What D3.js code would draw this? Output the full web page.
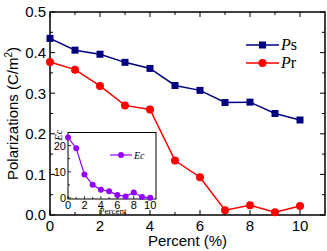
<!DOCTYPE html>
<html>
<head>
<meta charset="utf-8">
<script src="https://cdn.jsdelivr.net/npm/d3@7"></script>
<style>
  body { margin: 0; background: #fff; }
  svg { display: block; }
</style>
</head>
<body>
<div id="chart"></div>
<script>
// data
const percent = [0, 1, 2, 3, 4, 5, 6, 7, 8, 9, 10]
const psValues = [0.435, 0.406, 0.396, 0.376, 0.361, 0.319, 0.307, 0.277, 0.278, 0.250, 0.234]
const prValues = [0.377, 0.358, 0.318, 0.270, 0.260, 0.134, 0.093, 0.012, 0.024, 0.007, 0.022]
const ecValues = [23.1, 19.0, 9.0, 5.0, 3.1, 2.6, 1.1, 0.6, 2.1, 0.4, 0.1]
const xTickLabels = [0, 2, 4, 6, 8, 10]
const yTickLabels = [0.0, 0.1, 0.2, 0.3, 0.4, 0.5]
const insetYTicks = [0, 10, 20]

const width = 327, height = 251
const margin = { top: 12, right: 2, bottom: 36, left: 50 }

const svg = d3.select('#chart')
  .append('svg')
  .attr('width', width)
  .attr('height', height)

const x = d3.scaleLinear().domain([0, 11]).range([margin.left, width - margin.right])
const y = d3.scaleLinear().domain([0, 0.5]).range([height - margin.bottom, margin.top])

const sans = 'Arial, "Liberation Sans", sans-serif'
const serif = '"Times New Roman", "Liberation Serif", serif'

// frame
svg.append('rect')
  .attr('x', x(0)).attr('y', y(0.5))
  .attr('width', x(11) - x(0)).attr('height', y(0) - y(0.5))
  .attr('fill', 'none').attr('stroke', '#000').attr('stroke-width', 1.5)

// inward ticks on all four sides
const tickG = svg.append('g').attr('stroke', '#000').attr('stroke-width', 1)
d3.range(0, 11).forEach(v => {
  const len = v % 2 === 0 ? 5 : 3
  tickG.append('line').attr('x1', x(v)).attr('x2', x(v)).attr('y1', y(0)).attr('y2', y(0) - len)
  tickG.append('line').attr('x1', x(v)).attr('x2', x(v)).attr('y1', y(0.5)).attr('y2', y(0.5) + len)
})
d3.range(0, 11).map(i => i * 0.05).forEach((v, i) => {
  const len = i % 2 === 0 ? 5 : 3
  tickG.append('line').attr('x1', x(0)).attr('x2', x(0) + len).attr('y1', y(v)).attr('y2', y(v))
  tickG.append('line').attr('x1', x(11)).attr('x2', x(11) - len).attr('y1', y(v)).attr('y2', y(v))
})

// tick labels
svg.append('g').selectAll('text')
  .data(xTickLabels)
  .join('text')
  .attr('x', d => x(d)).attr('y', y(0) + 16)
  .attr('text-anchor', 'middle')
  .style('font', `15px ${sans}`)
  .text(d => d)

svg.append('g').selectAll('text')
  .data(yTickLabels)
  .join('text')
  .attr('x', x(0) - 4).attr('y', d => y(d))
  .attr('dy', '0.36em')
  .attr('text-anchor', 'end')
  .style('font', `15px ${sans}`)
  .text(d => d.toFixed(1))

// axis titles
svg.append('text')
  .attr('x', (x(0) + x(11)) / 2).attr('y', 246)
  .attr('text-anchor', 'middle')
  .style('font', `15px ${sans}`)
  .text('Percent (%)')

const yTitle = svg.append('text')
  .attr('transform', `translate(18,${(y(0) + y(0.5)) / 2}) rotate(-90)`)
  .attr('text-anchor', 'middle')
  .style('font', `15px ${sans}`)
yTitle.append('tspan').text('Polarizations (C/m')
yTitle.append('tspan').attr('dy', -6).style('font-size', '10px').text('2')
yTitle.append('tspan').attr('dy', 6).text(')')

// series
const lineOf = vals => d3.line().x((d, i) => x(percent[i])).y(d => y(d))(vals)

svg.append('path').attr('d', lineOf(psValues))
  .attr('fill', 'none').attr('stroke', '#000080').attr('stroke-width', 1.5)
svg.append('g').selectAll('rect')
  .data(psValues)
  .join('rect')
  .attr('x', (d, i) => x(percent[i]) - 3.5).attr('y', d => y(d) - 3.5)
  .attr('width', 7).attr('height', 7)
  .attr('fill', '#000080')

svg.append('path').attr('d', lineOf(prValues))
  .attr('fill', 'none').attr('stroke', '#ff0000').attr('stroke-width', 1.5)
svg.append('g').selectAll('circle')
  .data(prValues)
  .join('circle')
  .attr('cx', (d, i) => x(percent[i])).attr('cy', d => y(d))
  .attr('r', 4)
  .attr('fill', '#ff0000')

// legend
const legend = [
  { name: 'P', sub: 's', color: '#000080', shape: 'rect', yy: 45 },
  { name: 'P', sub: 'r', color: '#ff0000', shape: 'circle', yy: 63 },
]
legend.forEach(l => {
  svg.append('line').attr('x1', 246).attr('x2', 279).attr('y1', l.yy).attr('y2', l.yy)
    .attr('stroke', l.color).attr('stroke-width', 1.5)
  if (l.shape === 'rect') {
    svg.append('rect').attr('x', 262.5 - 3.5).attr('y', l.yy - 3.5).attr('width', 7).attr('height', 7).attr('fill', l.color)
  } else {
    svg.append('circle').attr('cx', 262.5).attr('cy', l.yy).attr('r', 4).attr('fill', l.color)
  }
  const t = svg.append('text').attr('x', 281).attr('y', l.yy + 5).style('font', `16px ${serif}`)
  t.append('tspan').style('font-style', 'italic').text(l.name)
  t.append('tspan').text(l.sub)
})

// inset
const ix = d3.scaleLinear().domain([0, 10.7]).range([68, 156])
const iy = d3.scaleLinear().domain([-0.4, 25]).range([199, 132.5])
const ecColor = '#9400ff'

svg.append('rect')
  .attr('x', ix(0)).attr('y', iy(25))
  .attr('width', ix(10.7) - ix(0)).attr('height', iy(-0.4) - iy(25))
  .attr('fill', '#fff').attr('stroke', '#000').attr('stroke-width', 1)

const iTicks = svg.append('g').attr('stroke', '#000').attr('stroke-width', 0.8)
d3.range(0, 11).forEach(v => {
  const len = v % 2 === 0 ? 3 : 2
  iTicks.append('line').attr('x1', ix(v)).attr('x2', ix(v)).attr('y1', iy(-0.4)).attr('y2', iy(-0.4) - len)
})
d3.range(0, 25, 5).forEach(v => {
  const len = v % 10 === 0 ? 3 : 2
  iTicks.append('line').attr('x1', ix(0)).attr('x2', ix(0) + len).attr('y1', iy(v)).attr('y2', iy(v))
})

svg.append('g').selectAll('text')
  .data(xTickLabels)
  .join('text')
  .attr('x', d => ix(d)).attr('y', iy(-0.4) + 10)
  .attr('text-anchor', 'middle')
  .style('font', `11px ${sans}`)
  .text(d => d)

svg.append('g').selectAll('text')
  .data(insetYTicks)
  .join('text')
  .attr('x', ix(0) - 2).attr('y', d => iy(d))
  .attr('dy', '0.36em')
  .attr('text-anchor', 'end')
  .style('font', `11px ${sans}`)
  .text(d => d)

svg.append('text')
  .attr('x', 113).attr('y', 214)
  .attr('text-anchor', 'middle')
  .style('font', `9px ${serif}`)
  .text('Percent')

svg.append('text')
  .attr('transform', `translate(62,${iy(24)}) rotate(-90)`)
  .attr('text-anchor', 'middle')
  .style('font', `italic 10px ${serif}`)
  .text('Ec')

svg.append('path')
  .attr('d', d3.line().x((d, i) => ix(percent[i])).y(d => iy(d))(ecValues))
  .attr('fill', 'none').attr('stroke', ecColor).attr('stroke-width', 1.2)
svg.append('g').selectAll('circle')
  .data(ecValues)
  .join('circle')
  .attr('cx', (d, i) => ix(percent[i])).attr('cy', d => iy(d))
  .attr('r', 3)
  .attr('fill', ecColor)

svg.append('line').attr('x1', 110).attr('x2', 132).attr('y1', 155).attr('y2', 155)
  .attr('stroke', ecColor).attr('stroke-width', 1.2)
svg.append('circle').attr('cx', 121).attr('cy', 155).attr('r', 3).attr('fill', ecColor)
svg.append('text').attr('x', 134).attr('y', 158.5)
  .style('font', `italic 10px ${serif}`)
  .text('Ec')
</script>
</body>
</html>
